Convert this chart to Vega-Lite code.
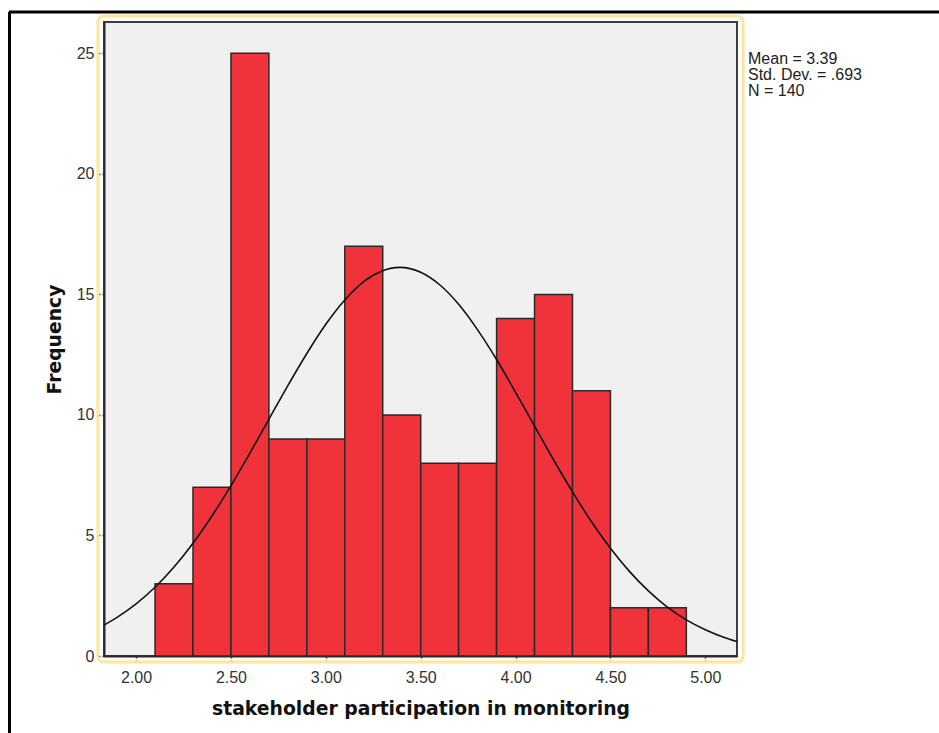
{
  "$schema": "https://vega.github.io/schema/vega-lite/v6.json",
  "width": 633,
  "height": 634,
  "autosize": {"type": "none"},
  "padding": {"left": 104, "top": 22, "right": 202, "bottom": 77},
  "background": "white",
  "config": {
    "view": {"fill": "#F0F0F0", "stroke": "#3c3c3c", "strokeWidth": 2},
    "axis": {
      "domain": true,
      "domainColor": "#2a2a2a",
      "domainWidth": 2,
      "grid": false,
      "labelFont": "Liberation Sans",
      "labelFontSize": 16,
      "labelColor": "#333333",
      "tickColor": "#333333",
      "tickSize": 8,
      "tickWidth": 1.5,
      "tickDash": [2, 2],
      "titleFont": "DejaVu Sans",
      "titleFontSize": 18.8,
      "titleFontWeight": "bold",
      "titleColor": "#111111"
    }
  },
  "datasets": {
    "bins": [
      {"start": 2.1, "end": 2.3, "count": 3},
      {"start": 2.3, "end": 2.5, "count": 7},
      {"start": 2.5, "end": 2.7, "count": 25},
      {"start": 2.7, "end": 2.9, "count": 9},
      {"start": 2.9, "end": 3.1, "count": 9},
      {"start": 3.1, "end": 3.3, "count": 17},
      {"start": 3.3, "end": 3.5, "count": 10},
      {"start": 3.5, "end": 3.7, "count": 8},
      {"start": 3.7, "end": 3.9, "count": 8},
      {"start": 3.9, "end": 4.1, "count": 14},
      {"start": 4.1, "end": 4.3, "count": 15},
      {"start": 4.3, "end": 4.5, "count": 11},
      {"start": 4.5, "end": 4.7, "count": 2},
      {"start": 4.7, "end": 4.9, "count": 2}
    ],
    "curve": [
      {"x": 1.831, "y": 1.28},
      {"x": 1.9, "y": 1.60},
      {"x": 2.0, "y": 2.16},
      {"x": 2.1, "y": 2.85},
      {"x": 2.2, "y": 3.69},
      {"x": 2.3, "y": 4.68},
      {"x": 2.4, "y": 5.81},
      {"x": 2.5, "y": 7.07},
      {"x": 2.6, "y": 8.42},
      {"x": 2.7, "y": 9.82},
      {"x": 2.8, "y": 11.22},
      {"x": 2.9, "y": 12.55},
      {"x": 3.0, "y": 13.76},
      {"x": 3.1, "y": 14.77},
      {"x": 3.2, "y": 15.53},
      {"x": 3.3, "y": 15.98},
      {"x": 3.39, "y": 16.12},
      {"x": 3.5, "y": 15.92},
      {"x": 3.6, "y": 15.40},
      {"x": 3.7, "y": 14.59},
      {"x": 3.8, "y": 13.53},
      {"x": 3.9, "y": 12.30},
      {"x": 4.0, "y": 10.94},
      {"x": 4.1, "y": 9.54},
      {"x": 4.2, "y": 8.14},
      {"x": 4.3, "y": 6.81},
      {"x": 4.4, "y": 5.57},
      {"x": 4.5, "y": 4.47},
      {"x": 4.6, "y": 3.51},
      {"x": 4.7, "y": 2.70},
      {"x": 4.8, "y": 2.03},
      {"x": 4.9, "y": 1.50},
      {"x": 5.0, "y": 1.09},
      {"x": 5.1, "y": 0.77},
      {"x": 5.167, "y": 0.60}
    ]
  },
  "layer": [
    {
      "data": {"name": "bins"},
      "mark": {"type": "bar", "fill": "#F0323A", "stroke": "#2a2a2a", "strokeWidth": 1.5},
      "encoding": {
        "x": {
          "field": "start",
          "type": "quantitative",
          "scale": {"domain": [1.831, 5.167], "nice": false, "zero": false},
          "axis": {
            "values": [2.0, 2.5, 3.0, 3.5, 4.0, 4.5, 5.0],
            "format": ".2f",
            "labelPadding": 5,
            "title": "stakeholder participation in monitoring",
            "titlePadding": 14
          }
        },
        "x2": {"field": "end"},
        "y": {
          "field": "count",
          "type": "quantitative",
          "scale": {"domain": [0, 26.3], "nice": false},
          "axis": {
            "values": [0, 5, 10, 15, 20, 25],
            "labelPadding": 2,
            "title": "Frequency",
            "titlePadding": 12
          }
        },
        "y2": {"datum": 0}
      }
    },
    {
      "data": {"name": "curve"},
      "mark": {"type": "line", "color": "#111111", "strokeWidth": 1.6, "interpolate": "monotone", "clip": true},
      "encoding": {
        "x": {"field": "x", "type": "quantitative"},
        "y": {"field": "y", "type": "quantitative"}
      }
    },
    {
      "data": {"values": [{}]},
      "mark": {"type": "rect", "fill": null, "fillOpacity": 0, "stroke": "#FFE49A", "strokeWidth": 3, "cornerRadius": 6, "clip": false},
      "encoding": {
        "x": {"datum": 1.799},
        "x2": {"datum": 5.199},
        "y": {"datum": -0.25},
        "y2": {"datum": 26.55}
      }
    },
    {
      "data": {"values": [{}]},
      "mark": {
        "type": "text",
        "align": "left",
        "baseline": "top",
        "font": "Liberation Sans",
        "fontSize": 16,
        "lineHeight": 16,
        "color": "#222222",
        "clip": false,
        "text": ["Mean = 3.39", "Std. Dev. = .693", "N = 140"]
      },
      "encoding": {
        "x": {"datum": 5.225},
        "y": {"datum": 25.1}
      }
    },
    {
      "data": {"values": [{}]},
      "mark": {"type": "rule", "color": "#000000", "strokeWidth": 3, "clip": false},
      "encoding": {
        "x": {"datum": 1.33},
        "x2": {"datum": 6.24},
        "y": {"datum": 26.72}
      }
    },
    {
      "data": {"values": [{}]},
      "mark": {"type": "rule", "color": "#000000", "strokeWidth": 3, "clip": false},
      "encoding": {
        "x": {"datum": 1.333},
        "y": {"datum": 26.72},
        "y2": {"datum": -3.3}
      }
    }
  ]
}
